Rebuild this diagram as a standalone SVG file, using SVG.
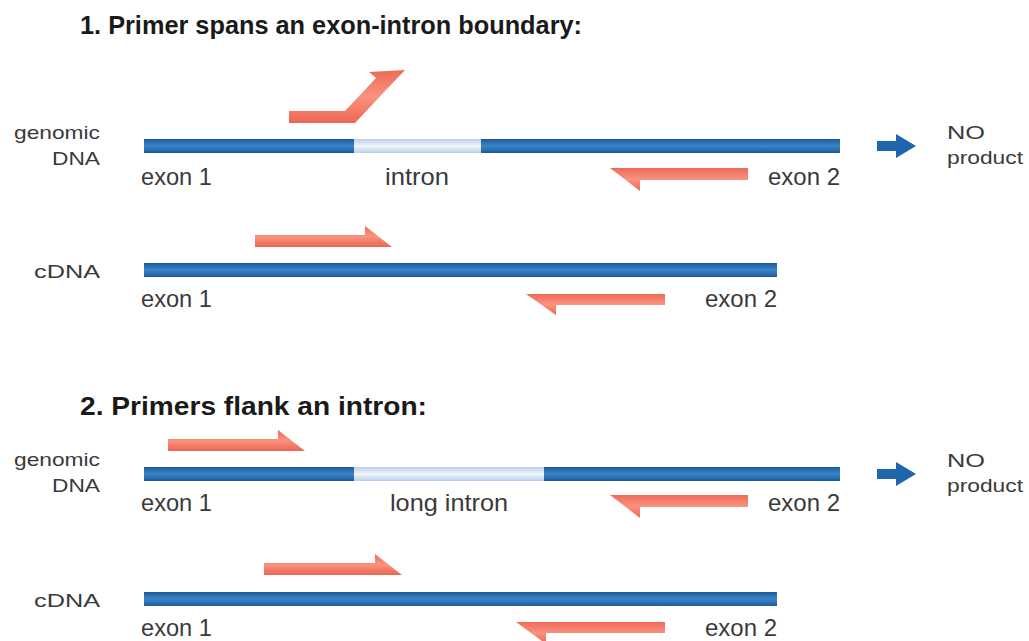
<svg xmlns="http://www.w3.org/2000/svg" width="1029" height="641" viewBox="0 0 1029 641">
  <defs>
    <linearGradient id="exon" x1="0" y1="0" x2="0" y2="1">
      <stop offset="0" stop-color="#1b5a9c"/>
      <stop offset="0.5" stop-color="#3a86c8"/>
      <stop offset="1" stop-color="#1b5a9c"/>
    </linearGradient>
    <linearGradient id="intron" x1="0" y1="0" x2="0" y2="1">
      <stop offset="0" stop-color="#b9cfe9"/>
      <stop offset="0.5" stop-color="#f2f6fc"/>
      <stop offset="1" stop-color="#b9cfe9"/>
    </linearGradient>
    <linearGradient id="primer" x1="0" y1="0" x2="0" y2="1">
      <stop offset="0" stop-color="#ef6a58"/>
      <stop offset="0.5" stop-color="#f8937f"/>
      <stop offset="1" stop-color="#ee6553"/>
    </linearGradient>
    <style>
      .title { font-family: "Liberation Sans", Arial, sans-serif; font-weight: bold; font-size: 25px; fill: #1a1a1a; }
      .lbl { font-family: "Liberation Sans", Arial, sans-serif; font-size: 24px; fill: #3a3a3a; }
      .side { font-family: "Liberation Sans", Arial, sans-serif; font-size: 19px; fill: #3a3a3a; }
      .exon { fill: url(#exon); }
      .intron { fill: url(#intron); }
      .primer { fill: url(#primer); }
      .result { fill: #1f66ad; }
    </style>
  </defs>

  <rect width="1029" height="641" fill="#ffffff"/>

  <!-- Panel 1 -->
  <g id="title1">
    <text class="title" x="80" y="34" textLength="502" lengthAdjust="spacingAndGlyphs">1. Primer spans an exon-intron boundary:</text>
  </g>

  <g id="genomic1">
    <text class="side" x="100" y="139" text-anchor="end" textLength="86" lengthAdjust="spacingAndGlyphs">genomic</text>
    <text class="side" x="100" y="165" text-anchor="end" textLength="48" lengthAdjust="spacingAndGlyphs">DNA</text>
    <rect class="exon" x="144" y="139" width="210" height="14"/>
    <rect class="intron" x="354" y="139" width="127" height="14"/>
    <rect class="exon" x="481" y="139" width="359" height="14"/>
    <text class="lbl" x="141" y="185" textLength="71" lengthAdjust="spacingAndGlyphs">exon 1</text>
    <text class="lbl" x="385" y="185" textLength="64" lengthAdjust="spacingAndGlyphs">intron</text>
    <text class="lbl" x="768" y="185" textLength="72" lengthAdjust="spacingAndGlyphs">exon 2</text>
  </g>

  <g id="result1">
    <polygon class="result" points="877,141 896,141 896,134 916,146 896,158 896,151 877,151"/>
    <text class="side" x="947" y="139" textLength="38" lengthAdjust="spacingAndGlyphs">NO</text>
    <text class="side" x="947" y="164" textLength="76" lengthAdjust="spacingAndGlyphs">product</text>
  </g>

  <g id="cdna1">
    <text class="side" x="100" y="278" text-anchor="end" textLength="66" lengthAdjust="spacingAndGlyphs">cDNA</text>
    <rect class="exon" x="144" y="263" width="633" height="14"/>
    <text class="lbl" x="141" y="307" textLength="71" lengthAdjust="spacingAndGlyphs">exon 1</text>
    <text class="lbl" x="705" y="307" textLength="72" lengthAdjust="spacingAndGlyphs">exon 2</text>
  </g>

  <!-- Panel 2 -->
  <g id="title2">
    <text class="title" x="80" y="415" textLength="347" lengthAdjust="spacingAndGlyphs">2. Primers flank an intron:</text>
  </g>

  <g id="genomic2">
    <text class="side" x="100" y="466" text-anchor="end" textLength="86" lengthAdjust="spacingAndGlyphs">genomic</text>
    <text class="side" x="100" y="492" text-anchor="end" textLength="48" lengthAdjust="spacingAndGlyphs">DNA</text>
    <rect class="exon" x="144" y="467" width="210" height="14"/>
    <rect class="intron" x="354" y="467" width="190" height="14"/>
    <rect class="exon" x="544" y="467" width="296" height="14"/>
    <text class="lbl" x="141" y="511" textLength="71" lengthAdjust="spacingAndGlyphs">exon 1</text>
    <text class="lbl" x="390" y="511" textLength="118" lengthAdjust="spacingAndGlyphs">long intron</text>
    <text class="lbl" x="768" y="511" textLength="72" lengthAdjust="spacingAndGlyphs">exon 2</text>
  </g>

  <g id="result2">
    <polygon class="result" points="877,469 896,469 896,462 916,474 896,486 896,479 877,479"/>
    <text class="side" x="947" y="467" textLength="38" lengthAdjust="spacingAndGlyphs">NO</text>
    <text class="side" x="947" y="492" textLength="76" lengthAdjust="spacingAndGlyphs">product</text>
  </g>

  <g id="cdna2">
    <text class="side" x="100" y="607" text-anchor="end" textLength="66" lengthAdjust="spacingAndGlyphs">cDNA</text>
    <rect class="exon" x="144" y="592" width="633" height="14"/>
    <text class="lbl" x="141" y="636" textLength="71" lengthAdjust="spacingAndGlyphs">exon 1</text>
    <text class="lbl" x="705" y="636" textLength="72" lengthAdjust="spacingAndGlyphs">exon 2</text>
  </g>

  <!-- Primers (half-arrow shapes) -->
  <g id="primers">
    <!-- panel 1, forward primer bending across the exon-intron junction -->
    <polygon id="p1-fwd-genomic" class="primer" points="289,111 345,111 376,78 369,72 405,70 386,90 355,123 289,123"/>
    <polygon id="p1-rev-genomic" class="primer" points="610,168 748,168 748,180 640,180 640,191"/>
    <polygon id="p1-fwd-cdna" class="primer" points="255,235 365,235 365,226 392,247 255,247"/>
    <polygon id="p1-rev-cdna" class="primer" points="526,294 665,294 665,305 556,305 556,315"/>
    <!-- panel 2, primers on either side of the intron -->
    <polygon id="p2-fwd-genomic" class="primer" points="168,439 278,439 278,430 305,451 168,451"/>
    <polygon id="p2-rev-genomic" class="primer" points="610,495 748,495 748,507 640,507 640,518"/>
    <polygon id="p2-fwd-cdna" class="primer" points="264,563 375,563 375,554 402,575 264,575"/>
    <polygon id="p2-rev-cdna" class="primer" points="516,622 665,622 665,633 546,633 546,644"/>
  </g>
</svg>
